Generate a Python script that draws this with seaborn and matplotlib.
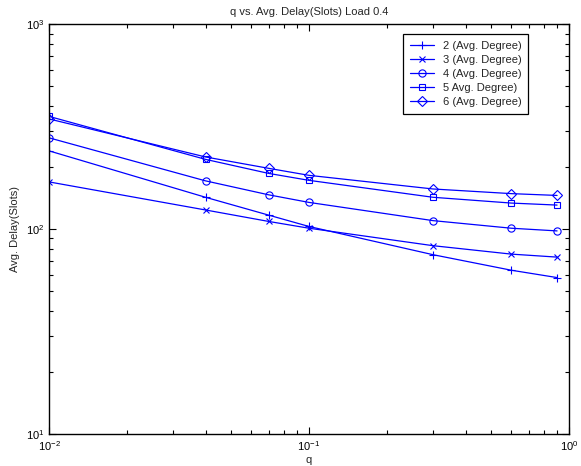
import matplotlib
matplotlib.use("Agg")
import matplotlib.pyplot as plt
import seaborn as sns
import pandas as pd
from matplotlib.ticker import LogLocator, NullFormatter

# q values and average delay (slots) per average node degree
q = [0.01, 0.04, 0.07, 0.1, 0.3, 0.6, 0.9]
delay_deg2 = [241, 143, 117, 103, 75, 63, 58]
delay_deg3 = [170, 124, 109, 101, 83, 75.5, 73]
delay_deg4 = [279, 172, 147, 135, 110, 101, 98]
delay_deg5 = [355, 219, 187, 173, 143, 134, 131]
delay_deg6 = [345, 225, 198, 183, 157, 149, 146]

labels = ["2 (Avg. Degree)", "3 (Avg. Degree)", "4 (Avg. Degree)",
          "5 Avg. Degree)", "6 (Avg. Degree)"]
series = [delay_deg2, delay_deg3, delay_deg4, delay_deg5, delay_deg6]
markers = ["+", "x", "o", "s", "D"]
msizes = [6, 3.8, 5.2, 4.3, 4.6]

sns.set_style("ticks")
plt.rcParams["font.family"] = ["Liberation Sans", "DejaVu Sans"]
plt.rcParams["mathtext.fontset"] = "custom"
plt.rcParams["mathtext.rm"] = "Liberation Sans"
plt.rcParams["mathtext.it"] = "Liberation Sans"
plt.rcParams["mathtext.bf"] = "Liberation Sans"

fig = plt.figure(figsize=(5.81, 4.66), dpi=100)
ax = fig.add_axes([0.0843, 0.0687, 0.8950, 0.8793])

blue = (0, 0, 1)
for lab, vals, mk, ms in zip(labels, series, markers, msizes):
    df = pd.DataFrame({"q": q, "delay": vals})
    sns.lineplot(data=df, x="q", y="delay", ax=ax, label=lab,
                 color=blue, marker=mk, markersize=ms,
                 markerfacecolor="none", markeredgecolor=blue,
                 markeredgewidth=0.8, linewidth=0.9)

ax.set_xscale("log")
ax.set_yscale("log")
ax.set_xlim(1e-2, 1e0)
ax.set_ylim(1e1, 1e3)

ax.xaxis.set_minor_locator(LogLocator(base=10, subs=range(2, 10)))
ax.yaxis.set_minor_locator(LogLocator(base=10, subs=range(2, 10)))
ax.xaxis.set_minor_formatter(NullFormatter())
ax.yaxis.set_minor_formatter(NullFormatter())

ax.tick_params(which="both", direction="in", top=True, right=True,
               labelsize=8, colors="black", width=0.8)
ax.tick_params(which="major", length=5)
ax.tick_params(which="minor", length=3)
ax.tick_params(axis="x", pad=4)
for sp in ax.spines.values():
    sp.set_linewidth(1.0)
    sp.set_color("black")

ax.set_title("q vs. Avg. Delay(Slots) Load 0.4", fontsize=8, pad=7)
ax.set_xlabel("q", fontsize=8, labelpad=1)
ax.set_ylabel("Avg. Delay(Slots)", fontsize=8, labelpad=4)

leg = ax.legend(loc="upper left", bbox_to_anchor=(0.681, 0.9756),
                fontsize=8, frameon=True, fancybox=False, shadow=False,
                handlelength=2.2, handletextpad=0.75, labelspacing=0.36,
                borderpad=0.6, borderaxespad=0)
leg.get_frame().set_edgecolor("black")
leg.get_frame().set_linewidth(0.9)
leg.get_frame().set_alpha(1)

fig.savefig("out.png", dpi=100)
